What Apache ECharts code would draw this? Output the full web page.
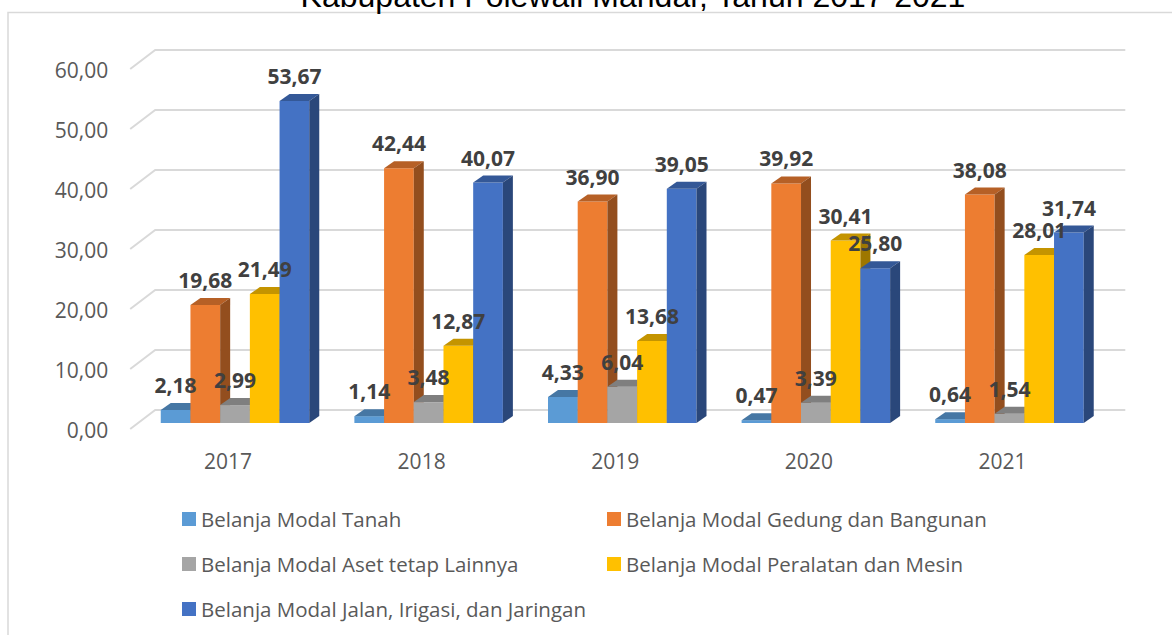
<!DOCTYPE html>
<html>
<head>
<meta charset="utf-8">
<title>Belanja Modal Kabupaten Polewali Mandar 2017-2021</title>
<script src="https://cdn.jsdelivr.net/npm/echarts@6/dist/echarts.min.js"></script>
<style>
  html, body { margin: 0; padding: 0; background: #ffffff; }
  #chart { width: 1172px; height: 635px; }
</style>
</head>
<body>
<div id="chart"></div>
<script>
// Capital expenditure share by category (percent), per year
const categories = ['2017', '2018', '2019', '2020', '2021'];
const tanah     = [2.18, 1.14, 4.33, 0.47, 0.64];
const gedung    = [19.68, 42.44, 36.90, 39.92, 38.08];
const asetLain  = [2.99, 3.48, 6.04, 3.39, 1.54];
const peralatan = [21.49, 12.87, 13.68, 30.41, 28.01];
const jalan     = [53.67, 40.07, 39.05, 25.80, 31.74];
const yTicks    = [0, 10, 20, 30, 40, 50, 60];

const seriesNames = [
  'Belanja Modal Tanah',
  'Belanja Modal Gedung dan Bangunan',
  'Belanja Modal Aset tetap Lainnya',
  'Belanja Modal Peralatan dan Mesin',
  'Belanja Modal Jalan, Irigasi, dan Jaringan'
];
const seriesValues = [tanah, gedung, asetLain, peralatan, jalan];
const colors = ['#5B9BD5', '#ED7D31', '#A5A5A5', '#FFC000', '#4472C4'];

const FONT = '"Open Sans", "Noto Sans", sans-serif';
const GROUP_FRACTION = 0.767;   // share of a category band taken by one cluster
const DEPTH_X = 10, DEPTH_Y = -7; // oblique depth of each column

function shade(hex, f) {
  const n = parseInt(hex.slice(1), 16);
  const r = Math.round(((n >> 16) & 255) * f);
  const g = Math.round(((n >> 8) & 255) * f);
  const b = Math.round((n & 255) * f);
  return 'rgb(' + r + ',' + g + ',' + b + ')';
}
function fmt(v) { return v.toFixed(2).replace('.', ','); }

// Back wall gridlines with the receding floor edge on the left
const wallSeries = {
  type: 'custom',
  name: 'wall',
  xAxisIndex: 0, yAxisIndex: 0,
  z: 1,
  silent: true,
  data: yTicks.map(v => [0, v]),
  renderItem: function (params, api) {
    const cs = params.coordSys;
    const y = api.coord([0, api.value(1)])[1];
    const xl = cs.x, xr = cs.x + cs.width;
    return {
      type: 'polyline',
      shape: { points: [[xl - 8, y + 6], [xl + 17, y - 13], [xr + 19, y - 13]] },
      style: { stroke: '#D9D9D9', lineWidth: 2, fill: null }
    };
  }
};

// One column series per expenditure type, drawn as front + top + side faces
const barSeries = seriesNames.map(function (name, s) {
  const base = colors[s];
  return {
    type: 'custom',
    name: name,
    xAxisIndex: 0, yAxisIndex: 0,
    z: 2,
    itemStyle: { color: base },
    data: seriesValues[s].map((v, i) => [i, v]),
    renderItem: function (params, api) {
      const ci = api.value(0), v = api.value(1);
      const p0 = api.coord([ci, 0]);
      const p1 = api.coord([ci, v]);
      const band = api.size([1, 0])[0];
      const groupW = band * GROUP_FRACTION;
      const bw = groupW / seriesNames.length;
      const x0 = p0[0] - groupW / 2 + s * bw;
      const yb = p0[1], yt = p1[1];
      return {
        type: 'group',
        children: [
          {
            type: 'rect',
            shape: { x: x0, y: yt, width: bw, height: yb - yt },
            style: { fill: base }
          },
          {
            type: 'polygon',
            shape: { points: [[x0, yt], [x0 + bw, yt], [x0 + bw + DEPTH_X, yt + DEPTH_Y], [x0 + DEPTH_X, yt + DEPTH_Y]] },
            style: { fill: shade(base, 0.77) }
          },
          {
            type: 'polygon',
            shape: { points: [[x0 + bw, yt], [x0 + bw + DEPTH_X, yt + DEPTH_Y], [x0 + bw + DEPTH_X, yb + DEPTH_Y], [x0 + bw, yb]] },
            style: { fill: shade(base, 0.62) }
          },
          {
            type: 'text',
            z2: 100,
            style: {
              text: fmt(v),
              x: x0 + bw / 2,
              y: yt - 25,
              align: 'center',
              verticalAlign: 'middle',
              font: 'bold 21px ' + FONT,
              fill: '#404040'
            }
          }
        ]
      };
    }
  };
});

const chart = echarts.init(document.getElementById('chart'), null, { renderer: 'svg' });

chart.setOption({
  backgroundColor: '#ffffff',
  animation: false,
  graphic: [
    {
      type: 'polyline',
      silent: true,
      shape: { points: [[8, 635], [8, 12.5], [1172, 12.5]] },
      style: { stroke: '#D9D9D9', lineWidth: 1.5, fill: null }
    },
    {
      type: 'text',
      silent: true,
      style: {
        text: 'Kabupaten Polewali Mandar, Tahun 2017-2021',
        x: 633,
        y: -4,
        align: 'center',
        verticalAlign: 'middle',
        font: '32px "Liberation Sans", Arial, sans-serif',
        fill: '#000000'
      }
    }
  ],
  legend: [
    {
      left: 177, top: 502,
      orient: 'vertical',
      icon: 'rect', itemWidth: 14, itemHeight: 14, itemGap: 21,
      textStyle: { fontFamily: FONT, fontSize: 20.5, lineHeight: 24, color: '#595959' },
      data: [seriesNames[0], seriesNames[2], seriesNames[4]]
    },
    {
      left: 602, top: 502,
      orient: 'vertical',
      icon: 'rect', itemWidth: 14, itemHeight: 14, itemGap: 21,
      textStyle: { fontFamily: FONT, fontSize: 20.5, lineHeight: 24, color: '#595959' },
      data: [seriesNames[1], seriesNames[3]]
    }
  ],
  grid: [
    // plane of the columns
    { left: 138.2, right: 65.7, top: 63, bottom: 212 },
    // front edge of the floor, carries the axis labels
    { left: 131.2, right: 72.7, top: 70, bottom: 205 }
  ],
  xAxis: [
    { type: 'category', gridIndex: 0, data: categories, show: false },
    {
      type: 'category', gridIndex: 1, data: categories,
      axisLine: { show: false }, axisTick: { show: false },
      axisLabel: { fontFamily: FONT, fontSize: 21, lineHeight: 24, color: '#595959', margin: 19 }
    }
  ],
  yAxis: [
    { type: 'value', gridIndex: 0, min: 0, max: 60, interval: 10, show: false },
    {
      type: 'value', gridIndex: 1, min: 0, max: 60, interval: 10,
      axisLine: { show: false }, axisTick: { show: false }, splitLine: { show: false },
      axisLabel: { fontFamily: FONT, fontSize: 21, color: '#595959', margin: 23, formatter: fmt }
    }
  ],
  series: [wallSeries].concat(barSeries)
});
</script>
</body>
</html>
